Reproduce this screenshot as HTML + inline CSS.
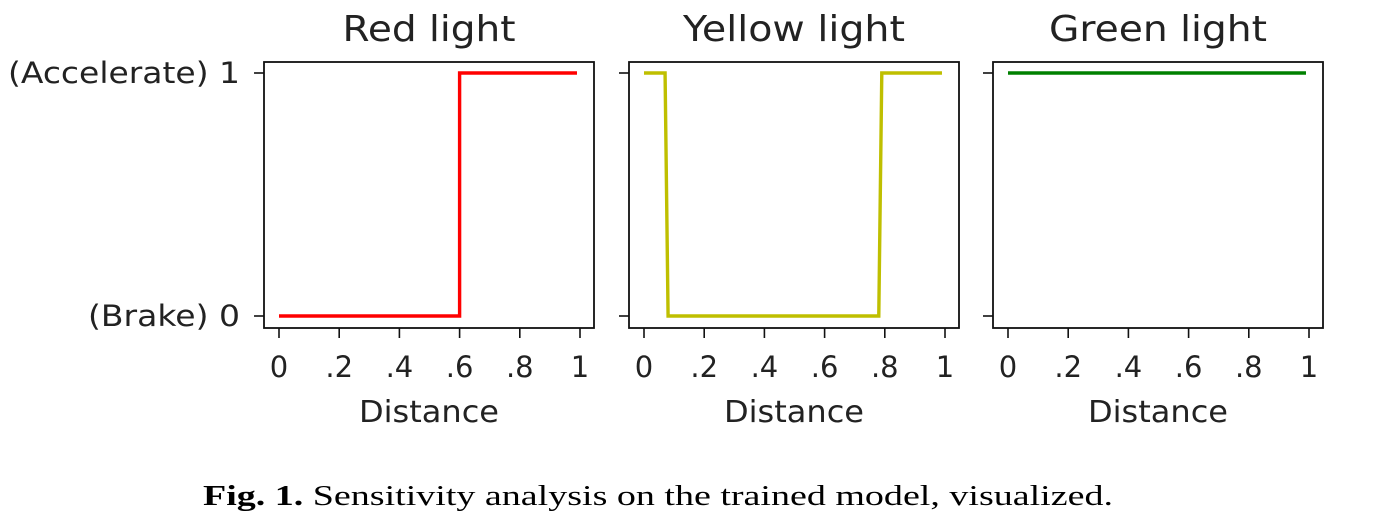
<!DOCTYPE html>
<html><head><meta charset="utf-8"><style>
body{margin:0;background:#fff;width:1383px;height:523px;overflow:hidden}
svg{display:block}
text{font-family:"DejaVu Sans","Liberation Sans",sans-serif;fill:#222}
</style></head><body>
<svg id="fig" width="1383" height="523" viewBox="0 0 1383 523"></svg>
<script>
// Data
const panelTitles = ["Red light", "Yellow light", "Green light"];
const panelColors = ["#ff0000", "#bfbf00", "#008000"];
const redX = [0, 0.6, 0.6, 0.99];
const redY = [0, 0, 1, 1];
const yellowX = [0, 0.07, 0.08, 0.78, 0.79, 0.99];
const yellowY = [1, 1, 0, 0, 1, 1];
const greenX = [0, 0.99];
const greenY = [1, 1];
const xTicks = [0, 0.2, 0.4, 0.6, 0.8, 1];
const xTickLabels = ["0", ".2", ".4", ".6", ".8", "1"];
const yTicks = [0, 1];
const yTickLabels = ["(Brake) 0", "(Accelerate) 1"];
const seriesX = [redX, yellowX, greenX];
const seriesY = [redY, yellowY, greenY];

const NS = "http://www.w3.org/2000/svg";
const svg = document.getElementById("fig");
function mk(tag, attrs, parent) {
  const e = document.createElementNS(NS, tag);
  for (const k in attrs) e.setAttribute(k, attrs[k]);
  (parent || svg).appendChild(e);
  return e;
}
const titleW = [173, 222, 218];
const yLabW = [152, 232];
const panelLeft = [264, 629, 993];
const boxW = 330, boxTop = 62, boxBottom = 328;
for (let p = 0; p < 3; p++) {
  const L = panelLeft[p];
  const xs = v => L + 15 + v * 301;
  const ys = v => 316 - v * 243;
  const g = mk("g", {});
  
  
  const t = mk("text", {x: L + boxW / 2 - titleW[p] / 2, y: 41, "font-size": 36, textLength: titleW[p], lengthAdjust: "spacingAndGlyphs"}, g);
  t.textContent = panelTitles[p];
  
  
  let d = "";
  const X = seriesX[p], Y = seriesY[p];
  for (let i = 0; i < X.length; i++) d += (i ? "L" : "M") + xs(X[i]) + " " + ys(Y[i]);
  const line = mk("path", {d: d, fill: "none", stroke: panelColors[p], "stroke-width": 3.4, "stroke-linejoin": "miter"}, g);
  
  
  const box = mk("rect", {x: L, y: boxTop, width: boxW, height: boxBottom - boxTop, fill: "none", stroke: "#111", "stroke-width": 1.8}, g);
  
  
  for (let i = 0; i < xTicks.length; i++) {
    const x = xs(xTicks[i]);
    const tk = mk("line", {x1: x, x2: x, y1: boxBottom, y2: boxBottom + 10, stroke: "#111", "stroke-width": 1.6}, g);
    
    
    const tl = mk("text", {x: x, y: 377, "text-anchor": "middle", "font-size": 29}, g);
    tl.textContent = xTickLabels[i];
    
    
  }
  for (let i = 0; i < yTicks.length; i++) {
    const y = ys(yTicks[i]);
    const tk = mk("line", {x1: L - 10, x2: L, y1: y, y2: y, stroke: "#111", "stroke-width": 1.6}, g);
    
    
    if (p === 0) {
      const tl = mk("text", {x: L - 24 - yLabW[i], y: y + 10, "font-size": 29, textLength: yLabW[i], lengthAdjust: "spacingAndGlyphs"}, g);
      tl.textContent = yTickLabels[i];
      
      
    }
  }
  const xl = mk("text", {x: L + 165 - 70, y: 422, "font-size": 30, textLength: 140, lengthAdjust: "spacingAndGlyphs"}, g);
  xl.textContent = "Distance";
  
  
}
const cap = mk("text", {x: 203, y: 505, "font-size": 28, "textLength": 910, "lengthAdjust": "spacingAndGlyphs", style: "font-family:'Liberation Serif',serif;fill:#000"});
cap.innerHTML = '<tspan font-weight="bold">Fig. 1.</tspan> Sensitivity analysis on the trained model, visualized.';


</script>
</body></html>
